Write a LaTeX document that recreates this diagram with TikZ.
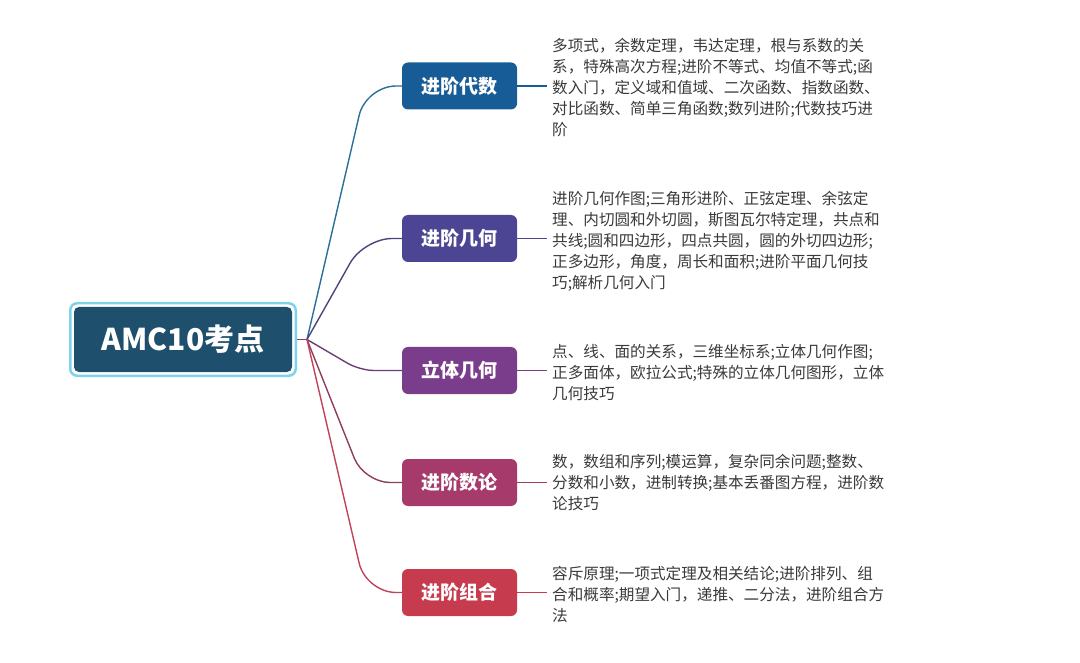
\documentclass[tikz,border=0pt]{standalone}
\usepackage{fontspec}
\setmainfont{Noto Sans CJK SC}
\definecolor{rootfill}{HTML}{1E4F6C}
\definecolor{rootedge}{HTML}{7DD3E8}
\definecolor{cA}{HTML}{175C97}
\definecolor{cB}{HTML}{4B4593}
\definecolor{cC}{HTML}{7A3D8B}
\definecolor{cD}{HTML}{A53A6B}
\definecolor{cE}{HTML}{C63B4D}
\definecolor{lA}{HTML}{2B6E98}
\definecolor{lB}{HTML}{48467E}
\definecolor{lC}{HTML}{6A3F78}
\definecolor{lD}{HTML}{8E3D60}
\definecolor{lE}{HTML}{C2425A}
\definecolor{desccol}{HTML}{3A3A3A}
\begin{document}
\begin{tikzpicture}[x=1pt,y=-1pt,
  branchbox/.style={rounded corners=6pt, minimum width=115pt, minimum height=47pt, inner sep=0pt,
    text=white, font=\bfseries\fontsize{19}{19}\selectfont},
  desc/.style={anchor=west, align=left, inner sep=0pt, text=desccol,
    font=\fontsize{15.6}{21}\selectfont},
  conn/.style={line width=1.4pt, rounded corners=22pt},
  tail/.style={line width=1.4pt}]
\useasboundingbox (0,0) rectangle (1080,663);
% root
\node[draw=rootedge, line width=2.5pt, fill=white, rounded corners=7pt,
  minimum width=225.5pt, minimum height=72.5pt, inner sep=0pt] (rootout) at (183,339.5) {};
\node[fill=rootfill, rounded corners=5pt, minimum width=218pt, minimum height=65pt, inner sep=0pt,
  text=white, font=\bfseries\fontsize{30}{30}\selectfont] (root) at (183,339.5) {AMC10考点};
\coordinate (split) at (307,339.5);
\draw[tail, color=lD] (rootout.east) -- (split);
% branch boxes
\node[branchbox, fill=cA] (b1) at (459.5,86) {进阶代数};
\node[branchbox, fill=cB] (b2) at (459.5,238.5) {进阶几何};
\node[branchbox, fill=cC] (b3) at (459.5,370.5) {立体几何};
\node[branchbox, fill=cD] (b4) at (459.5,482.5) {进阶数论};
\node[branchbox, fill=cE] (b5) at (459.5,592.5) {进阶组合};
% connectors
\draw[conn, color=lA, rounded corners=30pt] (split) -- (366,86) -- (b1.west);
\draw[conn, color=lB, rounded corners=28pt] (split) -- (364,238.5) -- (b2.west);
\draw[conn, color=lC, rounded corners=14pt] (split) -- (360,370.5) -- (b3.west);
\draw[conn, color=lD, rounded corners=26pt] (split) -- (364,482.5) -- (b4.west);
\draw[conn, color=lE, rounded corners=30pt] (split) -- (366,592.5) -- (b5.west);
% descriptions
\node[desc] (t1) at (552,88) {多项式，余数定理，韦达定理，根与系数的关\\
系，特殊高次方程;进阶不等式、均值不等式;函\\
数入门，定义域和值域、二次函数、指数函数、\\
对比函数、简单三角函数;数列进阶;代数技巧进\\
阶};
\node[desc] (t2) at (552,241) {进阶几何作图;三角形进阶、正弦定理、余弦定\\
理、内切圆和外切圆，斯图瓦尔特定理，共点和\\
共线;圆和四边形，四点共圆，圆的外切四边形;\\
正多边形，角度，周长和面积;进阶平面几何技\\
巧;解析几何入门};
\node[desc] (t3) at (552,372.5) {点、线、面的关系，三维坐标系;立体几何作图;\\
正多面体，欧拉公式;特殊的立体几何图形，立体\\
几何技巧};
\node[desc] (t4) at (552,483) {数，数组和序列;模运算，复杂同余问题;整数、\\
分数和小数，进制转换;基本丢番图方程，进阶数\\
论技巧};
\node[desc] (t5) at (552,595) {容斥原理;一项式定理及相关结论;进阶排列、组\\
合和概率;期望入门，递推、二分法，进阶组合方\\
法};
% tails
\draw[tail, color=cA] (b1.east) -- ([xshift=-5pt]t1.west |- b1.east);
\draw[tail, color=cB] (b2.east) -- ([xshift=-5pt]t2.west |- b2.east);
\draw[tail, color=cC] (b3.east) -- ([xshift=-5pt]t3.west |- b3.east);
\draw[tail, color=cD] (b4.east) -- ([xshift=-5pt]t4.west |- b4.east);
\draw[tail, color=cE] (b5.east) -- ([xshift=-5pt]t5.west |- b5.east);
\end{tikzpicture}
\end{document}
